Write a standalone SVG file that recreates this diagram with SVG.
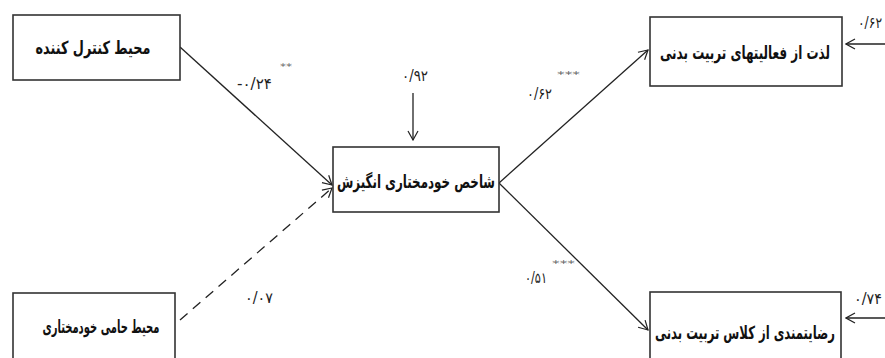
<svg xmlns="http://www.w3.org/2000/svg" width="885" height="358" viewBox="0 0 885 358">
<style>
.box{fill:#fff;stroke:#333;stroke-width:1.6}
.bt{font-family:"DejaVu Sans",sans-serif;font-weight:bold;font-size:18px;fill:#111;text-anchor:middle}
.lbl{font-family:"DejaVu Sans",sans-serif;font-size:15px;fill:#222;text-anchor:middle}
.st{font-family:"DejaVu Sans",sans-serif;font-size:9px;fill:#666;text-anchor:start}
.ln{stroke:#222;stroke-width:1.3;fill:none}
.dash{stroke-dasharray:10,7}
</style>
<defs>
<marker id="ah" viewBox="0 0 12 12" refX="11" refY="6" markerWidth="12" markerHeight="12" markerUnits="userSpaceOnUse" orient="auto">
<polyline points="2,1 11,6 2,11" fill="none" stroke="#222" stroke-width="1.2"/>
</marker>
</defs>
<rect width="885" height="358" fill="#fff"/>
<g id="connectors">
<line class="ln" x1="180" y1="47" x2="332" y2="185" marker-end="url(#ah)"/>
<line class="ln dash" x1="180" y1="320" x2="332" y2="188" marker-end="url(#ah)"/>
<line class="ln" x1="499" y1="183" x2="648" y2="50" marker-end="url(#ah)"/>
<line class="ln" x1="499" y1="183" x2="648" y2="330" marker-end="url(#ah)"/>
<line class="ln" x1="413" y1="93" x2="413" y2="140" marker-end="url(#ah)"/>
<line class="ln" x1="885" y1="44" x2="846" y2="44" marker-end="url(#ah)"/>
<line class="ln" x1="885" y1="318" x2="846" y2="318" marker-end="url(#ah)"/>
<text class="lbl" x="254.5" y="89" textLength="35" lengthAdjust="spacingAndGlyphs">-۰/۲۴</text><text class="st" x="280" y="70" textLength="12" lengthAdjust="spacingAndGlyphs">**</text>
<text class="lbl" x="415" y="81" textLength="26" lengthAdjust="spacingAndGlyphs">۰/۹۲</text>
<text class="lbl" x="539.5" y="99" textLength="25" lengthAdjust="spacingAndGlyphs">۰/۶۲</text><text class="st" x="557" y="78" textLength="23" lengthAdjust="spacingAndGlyphs">***</text>
<text class="lbl" x="536" y="283" textLength="22" lengthAdjust="spacingAndGlyphs">۰/۵۱</text><text class="st" x="552" y="267" textLength="23" lengthAdjust="spacingAndGlyphs">***</text>
<text class="lbl" x="259" y="303" textLength="28" lengthAdjust="spacingAndGlyphs">۰/۰۷</text>
<text class="lbl" x="870" y="28" textLength="24" lengthAdjust="spacingAndGlyphs">۰/۶۲</text>
<text class="lbl" x="868" y="304" textLength="28" lengthAdjust="spacingAndGlyphs">۰/۷۴</text>
</g>
<g id="n1"><rect class="box" x="13" y="15" width="167" height="65"/><text class="bt" x="93" y="54" textLength="115" lengthAdjust="spacingAndGlyphs">محیط کنترل کننده</text></g>
<g id="n2"><rect class="box" x="333" y="147" width="166" height="65"/><text class="bt" x="416" y="188" textLength="158" lengthAdjust="spacingAndGlyphs">شاخص خودمختاری انگیزش</text></g>
<g id="n3"><rect class="box" x="650" y="17" width="192" height="69"/><text class="bt" x="745" y="59" textLength="170" lengthAdjust="spacingAndGlyphs">لذت از فعالیتهای تربیت بدنی</text></g>
<g id="n4"><rect class="box" x="13" y="293" width="162" height="70"/><text class="bt" x="101" y="333" textLength="117" lengthAdjust="spacingAndGlyphs">محیط حامی خودمختاری</text></g>
<g id="n5"><rect class="box" x="650" y="292" width="191" height="70"/><text class="bt" x="745" y="339" textLength="180" lengthAdjust="spacingAndGlyphs">رضایتمندی از کلاس تربیت بدنی</text></g>
</svg>
